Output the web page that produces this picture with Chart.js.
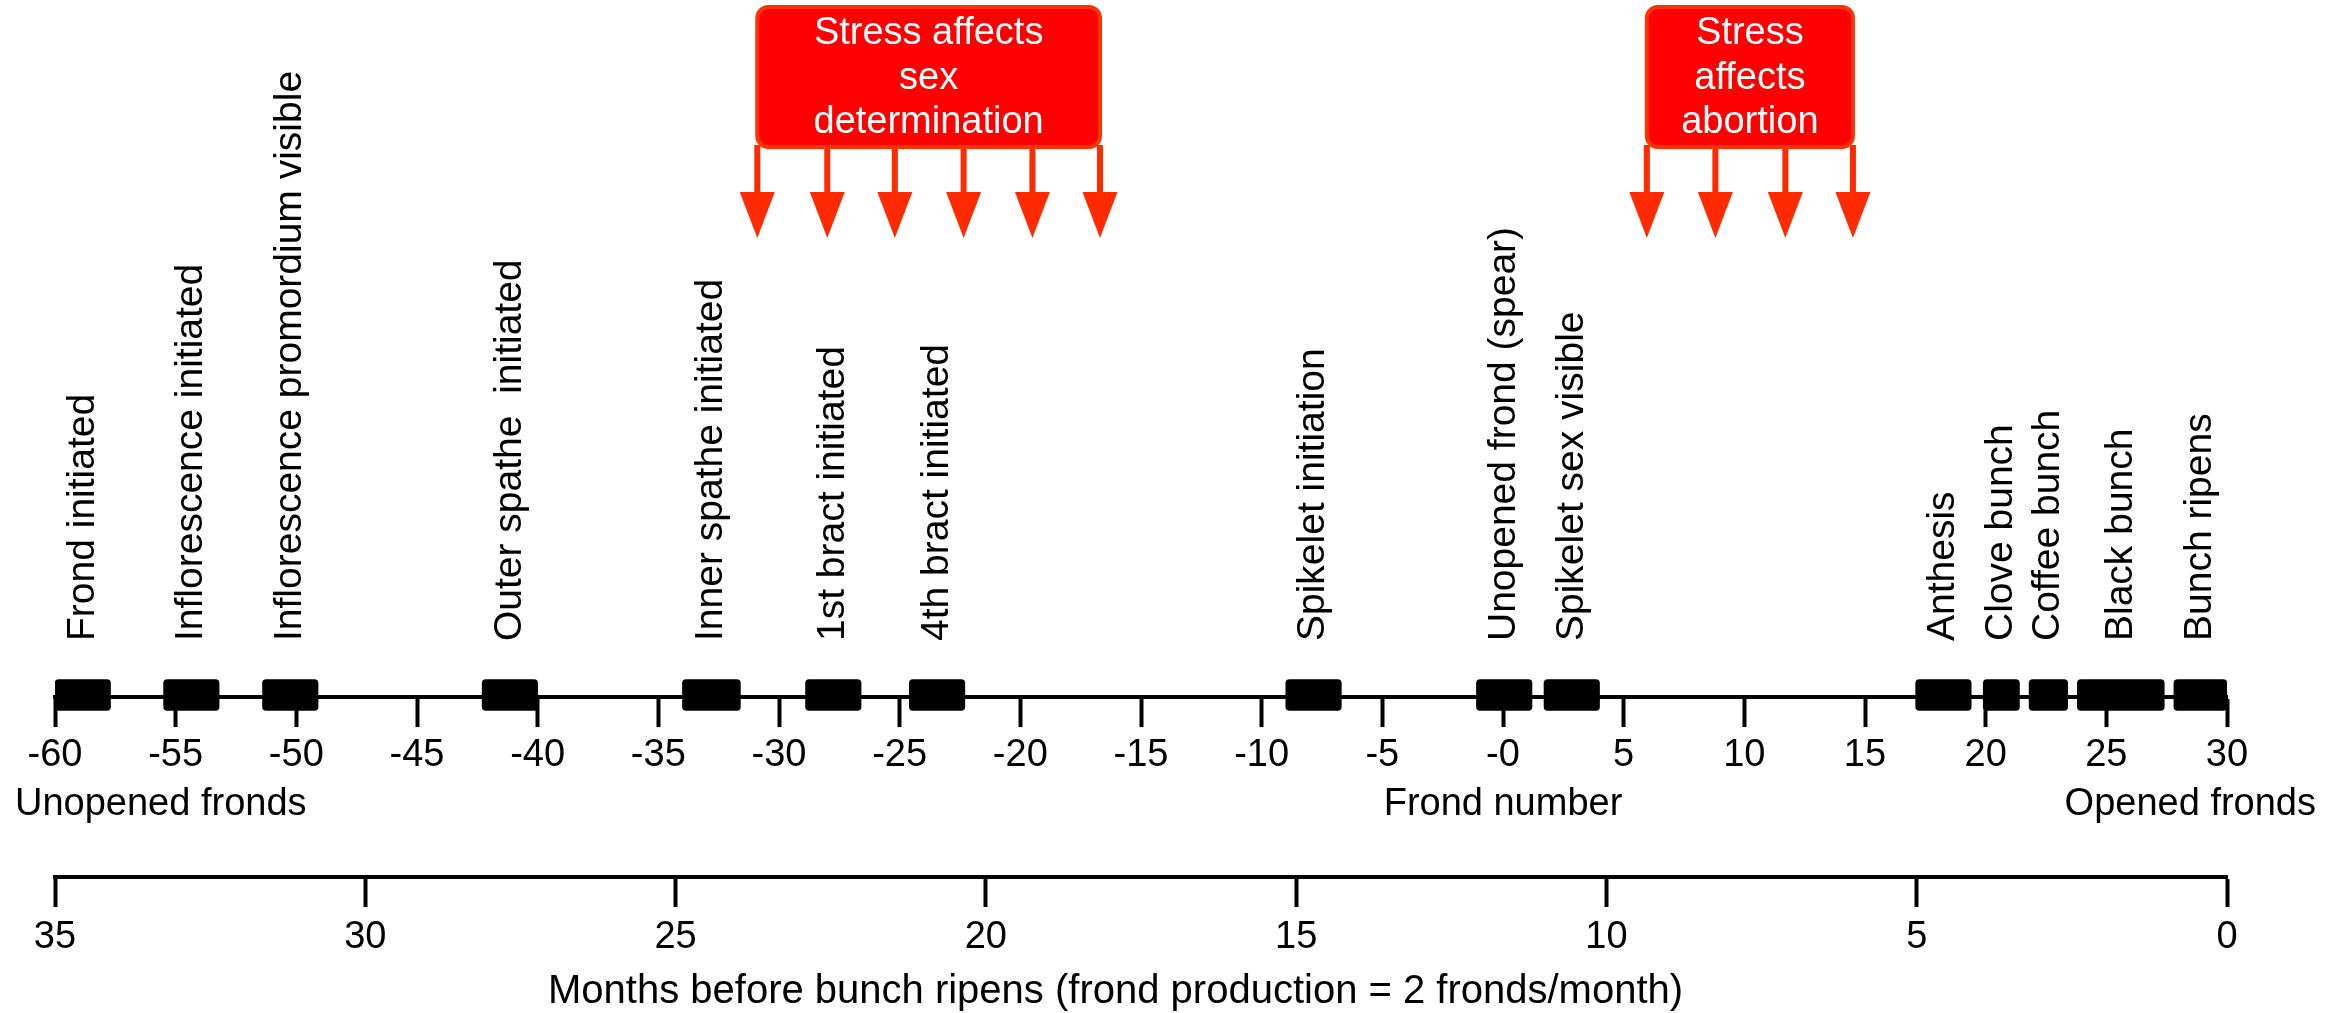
<!DOCTYPE html>
<html>
<head>
<meta charset="utf-8">
<script src="https://cdn.jsdelivr.net/npm/chart.js@4.4.0/dist/chart.umd.min.js"></script>
<style>
html, body { margin: 0; padding: 0; background: #fff; }
#wrap { width: 2343px; height: 1013px; }
</style>
</head>
<body>
<div id="wrap"><canvas id="grafico" width="2343" height="1013"></canvas></div>
<script>
// stages of bunch development, start / end in frond number
const etapas = [
    'Frond initiated', 'Inflorescence initiated', 'Inflorescence promordium visible',
    'Outer spathe  initiated', 'Inner spathe initiated', '1st bract initiated',
    '4th bract initiated', 'Spikelet initiation', 'Unopened frond (spear)',
    'Spikelet sex visible', 'Anthesis', 'Clove bunch', 'Coffee bunch',
    'Black bunch', 'Bunch ripens'
];
const inicio = [-60, -55.5, -51.4, -42.3, -34, -28.9, -24.6, -9, -1.1, 1.7, 17.1, 19.9, 21.8, 23.8, 27.8];
const fin    = [-57.7, -53.2, -49.1, -40, -31.6, -26.6, -22.3, -6.7, 1.2, 4, 19.4, 21.4, 23.4, 27.4, 30];

// tick labels
const frondTicks = [-60, -55, -50, -45, -40, -35, -30, -25, -20, -15, -10, -5, 0, 5, 10, 15, 20, 25, 30];
const frondLabels = ['-60', '-55', '-50', '-45', '-40', '-35', '-30', '-25', '-20', '-15', '-10', '-5', '-0', '5', '10', '15', '20', '25', '30'];
const mesTicks = [35, 30, 25, 20, 15, 10, 5, 0];
const mesLabels = ['35', '30', '25', '20', '15', '10', '5', '0'];

// stress windows (arrow positions in frond number)
const flechasSexo = [-30.9, -28.0, -25.2, -22.35, -19.5, -16.7];
const flechasAborto = [5.96, 8.8, 11.7, 14.5];
const textoSexo = ['Stress affects', 'sex', 'determination'];
const textoAborto = ['Stress', 'affects', 'abortion'];

// layout (rows of the hidden y scale = canvas pixels)
const FILA = 695;
const EJE_FRONDAS = 697;
const EJE_MESES = 877;
const BASE_ETIQUETAS = 641;
const CAJA_ARRIBA = 7, CAJA_ABAJO = 147, PUNTA_INI = 192, PUNTA_FIN = 238;

const FUENTE = '"Liberation Sans", Arial, Helvetica, sans-serif';
Chart.defaults.font.family = FUENTE;
Chart.defaults.font.size = 38;
Chart.defaults.color = '#000';

function cajaRedonda(ctx, x, y, w, h, r) {
    ctx.beginPath();
    ctx.moveTo(x + r, y);
    ctx.lineTo(x + w - r, y);
    ctx.arcTo(x + w, y, x + w, y + r, r);
    ctx.lineTo(x + w, y + h - r);
    ctx.arcTo(x + w, y + h, x + w - r, y + h, r);
    ctx.lineTo(x + r, y + h);
    ctx.arcTo(x, y + h, x, y + h - r, r);
    ctx.lineTo(x, y + r);
    ctx.arcTo(x, y, x + r, y, r);
    ctx.closePath();
}

function dibujarEstres(chart, flechas, lineas) {
    const ctx = chart.ctx;
    const sx = chart.scales.x, sy = chart.scales.y;
    const xs = flechas.map(v => sx.getPixelForValue(v));
    const top = sy.getPixelForValue(CAJA_ARRIBA), bot = sy.getPixelForValue(CAJA_ABAJO);
    const p1 = sy.getPixelForValue(PUNTA_INI), p2 = sy.getPixelForValue(PUNTA_FIN);

    // arrows
    ctx.fillStyle = '#ff2a00';
    xs.forEach(x => {
        ctx.fillRect(x - 3, bot - 2, 6, p1 - bot + 4);
        ctx.beginPath();
        ctx.moveTo(x - 17.5, p1);
        ctx.lineTo(x + 17.5, p1);
        ctx.lineTo(x, p2);
        ctx.closePath();
        ctx.fill();
    });

    // box
    const izq = xs[0], der = xs[xs.length - 1];
    cajaRedonda(ctx, izq, top, der - izq, bot - top, 11);
    ctx.fillStyle = '#ff0000';
    ctx.fill();
    ctx.lineWidth = 4;
    ctx.strokeStyle = '#ff3300';
    ctx.stroke();

    ctx.fillStyle = '#fff';
    ctx.font = '38px ' + FUENTE;
    ctx.textAlign = 'center';
    ctx.textBaseline = 'alphabetic';
    const bases = [44, 88.5, 133];
    lineas.forEach((t, i) => ctx.fillText(t, (izq + der) / 2, sy.getPixelForValue(bases[i])));
}

const extras = {
    id: 'extras',
    beforeDraw(chart) {
        const ctx = chart.ctx;
        ctx.save();
        ctx.fillStyle = '#fff';
        ctx.fillRect(0, 0, chart.width, chart.height);
        ctx.restore();
    },
    afterDraw(chart) {
        const ctx = chart.ctx;
        const sx = chart.scales.x, sy = chart.scales.y;
        ctx.save();

        // rotated stage labels
        ctx.fillStyle = '#000';
        ctx.font = '39px ' + FUENTE;
        ctx.textAlign = 'left';
        ctx.textBaseline = 'middle';
        etapas.forEach((t, i) => {
            const cx = sx.getPixelForValue((inicio[i] + fin[i]) / 2);
            ctx.save();
            ctx.translate(cx, sy.getPixelForValue(BASE_ETIQUETAS));
            ctx.rotate(-Math.PI / 2);
            ctx.fillText(t, 0, 0);
            ctx.restore();
        });

        // axis captions
        ctx.font = '38px ' + FUENTE;
        ctx.textBaseline = 'alphabetic';
        ctx.textAlign = 'left';
        ctx.fillText('Unopened fronds', 15, 815);
        ctx.textAlign = 'center';
        ctx.fillText('Frond number', sx.getPixelForValue(0), 815);
        ctx.textAlign = 'right';
        ctx.fillText('Opened fronds', 2316, 815);
        ctx.font = '40px ' + FUENTE;
        ctx.textAlign = 'left';
        ctx.fillText('Months before bunch ripens (frond production = 2 fronds/month)', 548, 1003);

        dibujarEstres(chart, flechasSexo, textoSexo);
        dibujarEstres(chart, flechasAborto, textoAborto);
        ctx.restore();
    }
};

const ejeComun = {
    type: 'linear',
    grid: { drawOnChartArea: false, tickLength: 28, tickWidth: 4, tickColor: '#000' },
    border: { color: '#000', width: 4 }
};

new Chart(document.getElementById('grafico'), {
    type: 'bar',
    data: {
        labels: etapas,
        datasets: [{
            label: 'Stages',
            data: etapas.map((e, i) => ({ x: [inicio[i], fin[i]], y: FILA })),
            backgroundColor: '#000',
            borderColor: '#000',
            borderWidth: 0,
            borderRadius: 4,
            borderSkipped: false,
            barThickness: 31,
            xAxisID: 'x',
            yAxisID: 'y'
        }]
    },
    options: {
        indexAxis: 'y',
        responsive: false,
        animation: false,
        layout: { padding: { left: 55, right: 116, top: 0, bottom: 0 } },
        plugins: { legend: { display: false }, tooltip: { enabled: false } },
        scales: {
            // bar charts offset the index axis by default, which would squeeze the rows
            y: { type: 'linear', min: 0, max: 1013, reverse: true, offset: false, display: false },
            x: Object.assign({}, ejeComun, {
                min: -60, max: 30,
                position: { y: EJE_FRONDAS },
                afterBuildTicks: s => { s.ticks = frondTicks.map(v => ({ value: v })); },
                ticks: { padding: 8, callback: (v, i) => frondLabels[i] }
            }),
            x2: Object.assign({}, ejeComun, {
                min: 0, max: 35, reverse: true,
                position: { y: EJE_MESES },
                afterBuildTicks: s => { s.ticks = mesTicks.map(v => ({ value: v })); },
                ticks: { padding: 10, callback: (v, i) => mesLabels[i] }
            })
        }
    },
    plugins: [extras]
});
</script>
</body>
</html>
